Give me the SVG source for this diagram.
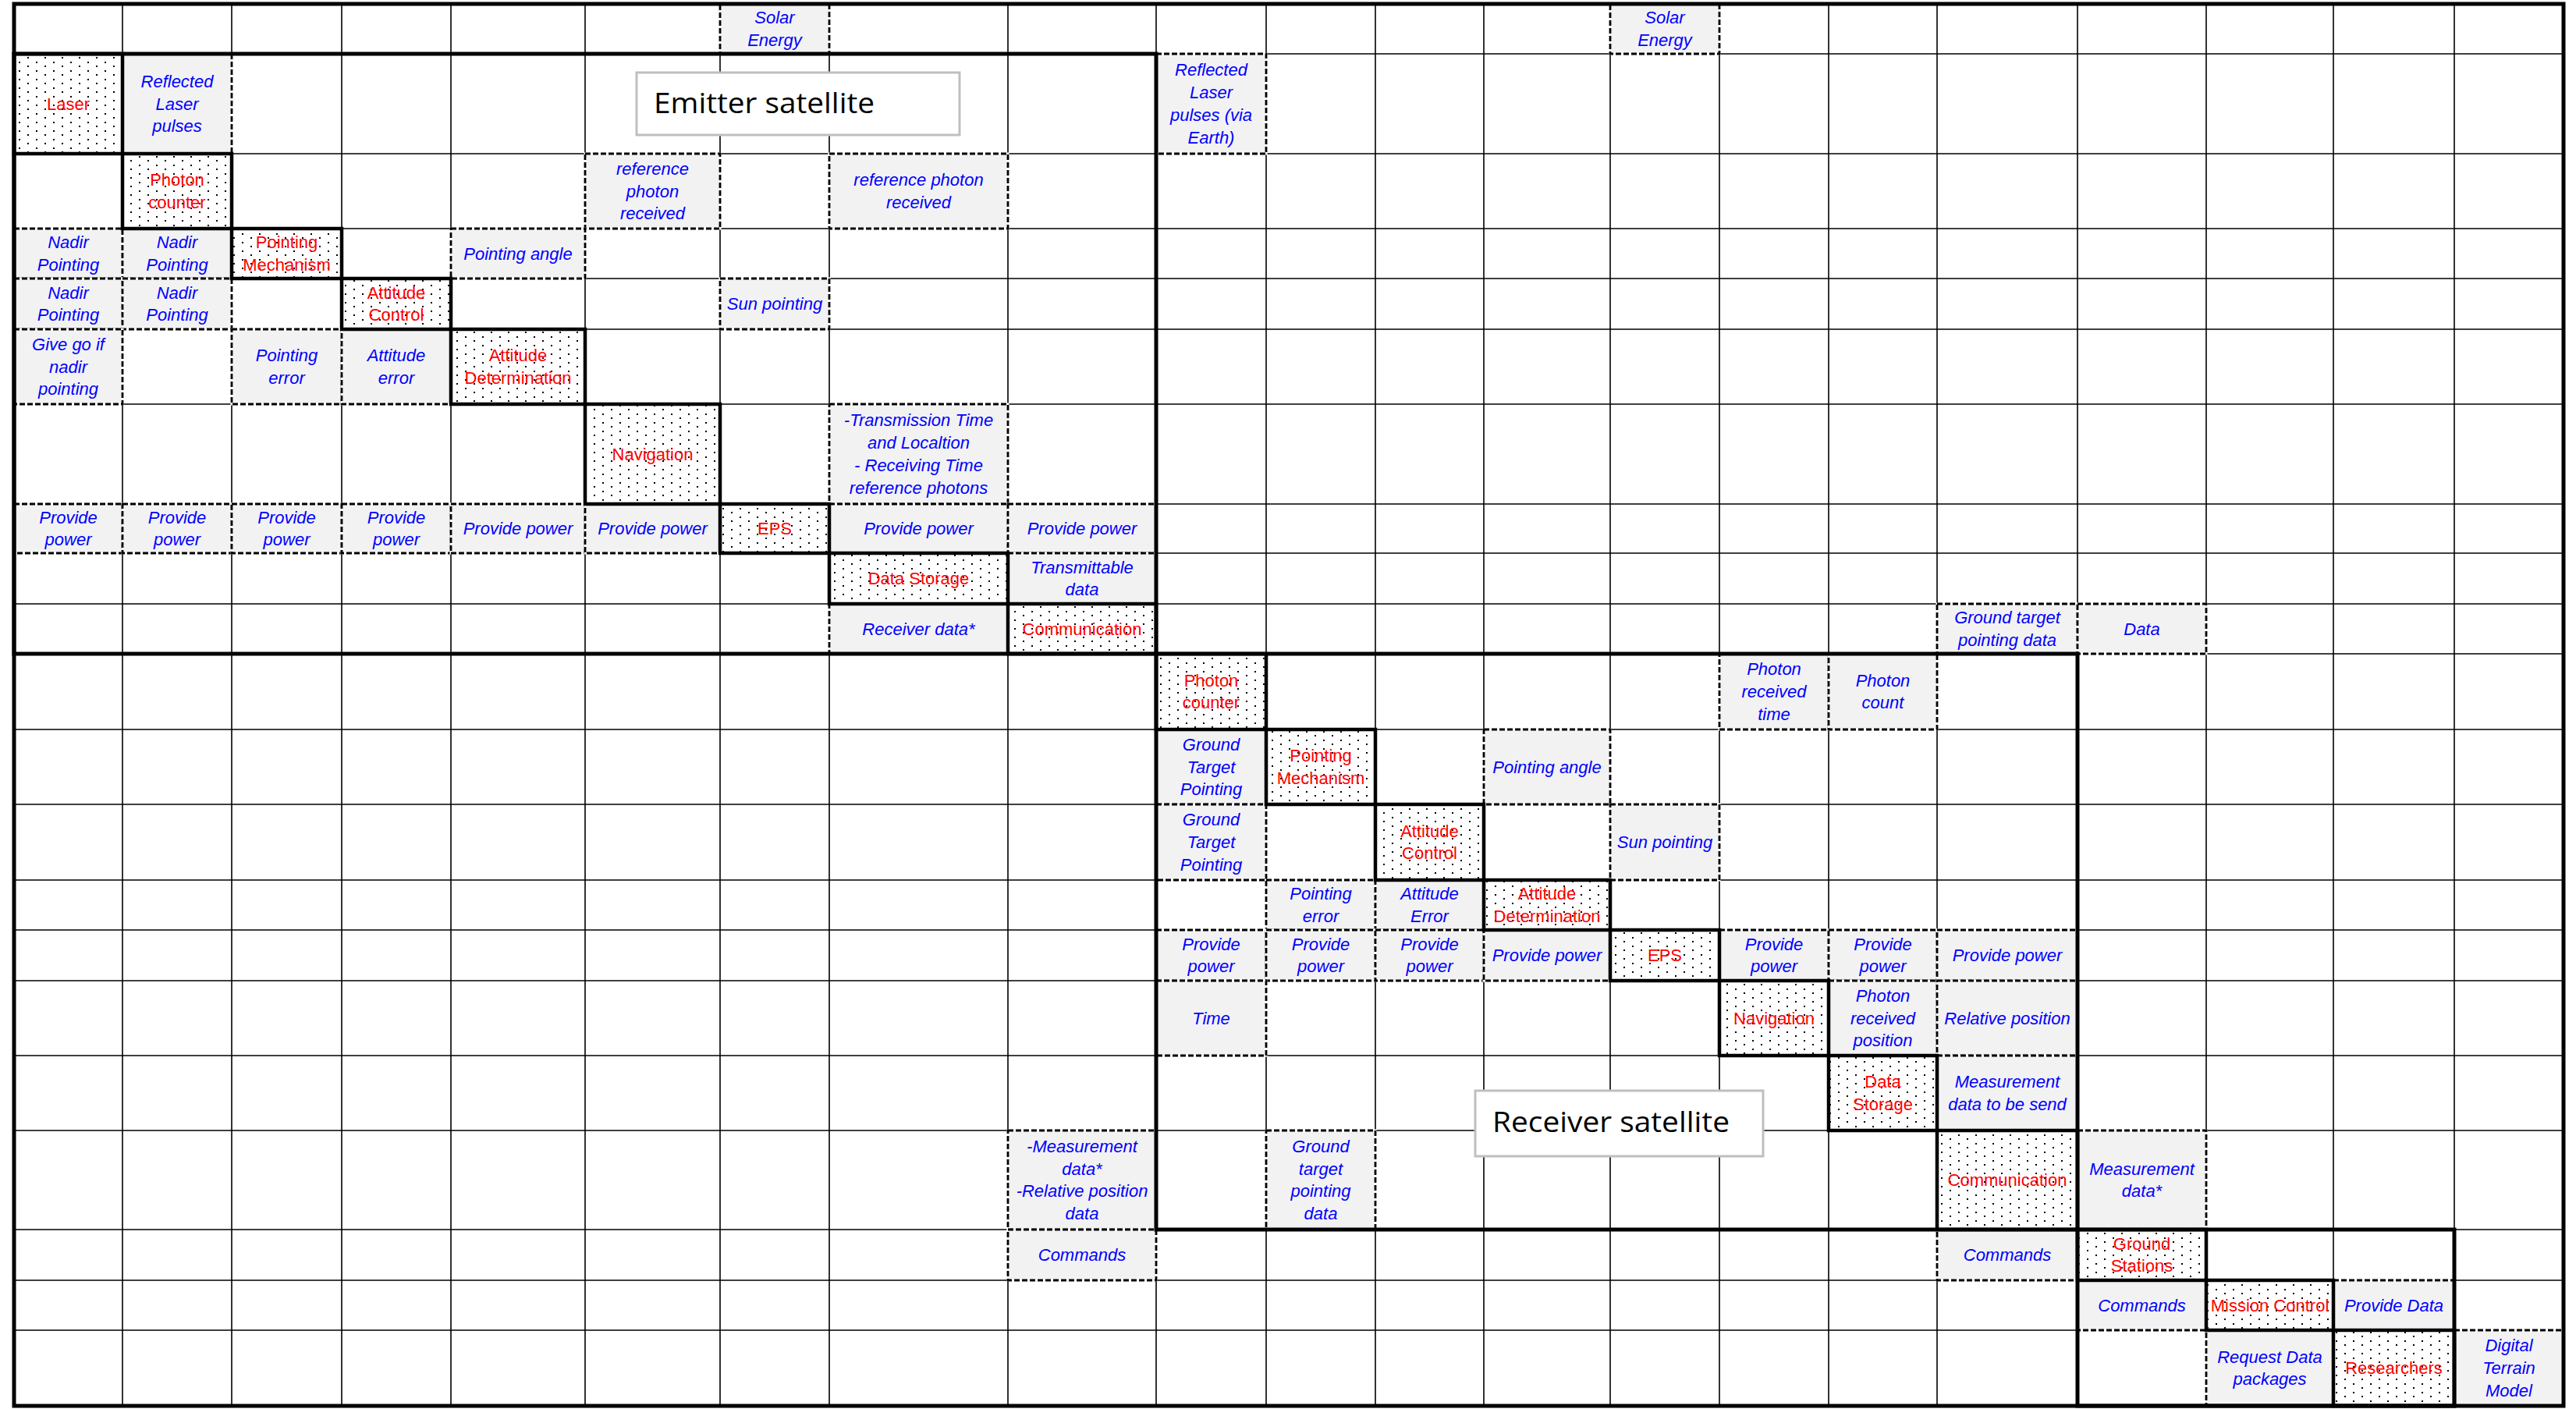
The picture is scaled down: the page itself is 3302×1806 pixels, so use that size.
<svg xmlns="http://www.w3.org/2000/svg" width="3302" height="1806" viewBox="0 0 3302 1806">
<style>
.g{fill:none;stroke:#000;stroke-width:1.6}
.cb{fill:#f2f2f2;stroke:#fff;stroke-width:3}
.cd{fill:none;stroke:#000;stroke-width:2.8;stroke-dasharray:7 3}
.dg{fill:url(#dots);stroke:#000;stroke-width:4.5}
.blk{fill:none;stroke:#000;stroke-width:5}
.t{font-family:"Liberation Sans",Arial,sans-serif;font-size:22px;font-style:italic;fill:#00f;text-anchor:middle}
.r{font-family:"Liberation Sans",Arial,sans-serif;font-size:22px;fill:#f00;text-anchor:middle}
.lb{fill:#fff;stroke:#bfbfbf;stroke-width:3}
.lt{font-family:"Open Sans","Noto Sans",sans-serif;font-size:37px;fill:#000}
</style>
<defs>
<pattern id="dots" width="22" height="11" patternUnits="userSpaceOnUse">
<rect width="22" height="11" fill="#fff"/>
<rect x="2" y="2" width="2" height="2" fill="#000"/>
<rect x="13" y="7" width="2" height="2" fill="#000"/>
</pattern>
</defs>
<rect width="3302" height="1806" fill="#fff"/>
<g id="grid">
<path class="g" d="M157 5V1802M297 5V1802M438 5V1802M578 5V1802M750 5V1802M923 5V1802M1063 5V1802M1292 5V1802M1482 5V1802M1623 5V1802M1763 5V1802M1902 5V1802M2064 5V1802M2204 5V1802M2344 5V1802M2483 5V1802M2663 5V1802M2828 5V1802M2991 5V1802M3146 5V1802"/>
<path class="g" d="M18 69H3286M18 197H3286M18 293H3286M18 357H3286M18 422H3286M18 518H3286M18 646H3286M18 709H3286M18 774H3286M18 838H3286M18 935H3286M18 1031H3286M18 1128H3286M18 1192H3286M18 1257H3286M18 1353H3286M18 1449H3286M18 1576H3286M18 1641H3286M18 1705H3286"/>
</g>
<g id="interfaces">
<g id="if-0-6"><rect class="cb" x="923" y="5" width="140" height="64"/><rect class="cd" x="923" y="5" width="140" height="64"/><text class="t" x="993" y="30.15">Solar<tspan x="993" dy="28.7">Energy</tspan></text></g>
<g id="if-0-13"><rect class="cb" x="2064" y="5" width="140" height="64"/><rect class="cd" x="2064" y="5" width="140" height="64"/><text class="t" x="2134" y="30.15">Solar<tspan x="2134" dy="28.7">Energy</tspan></text></g>
<g id="if-1-1"><rect class="cb" x="157" y="69" width="140" height="128"/><rect class="cd" x="157" y="69" width="140" height="128"/><text class="t" x="227" y="111.8">Reflected<tspan x="227" dy="28.7">Laser</tspan><tspan x="227" dy="28.7">pulses</tspan></text></g>
<g id="if-1-9"><rect class="cb" x="1482" y="69" width="141" height="128"/><rect class="cd" x="1482" y="69" width="141" height="128"/><text class="t" x="1552.5" y="97.45">Reflected<tspan x="1552.5" dy="28.7">Laser</tspan><tspan x="1552.5" dy="28.7">pulses (via</tspan><tspan x="1552.5" dy="28.7">Earth)</tspan></text></g>
<g id="if-2-5"><rect class="cb" x="750" y="197" width="173" height="96"/><rect class="cd" x="750" y="197" width="173" height="96"/><text class="t" x="836.5" y="223.8">reference<tspan x="836.5" dy="28.7">photon</tspan><tspan x="836.5" dy="28.7">received</tspan></text></g>
<g id="if-2-7"><rect class="cb" x="1063" y="197" width="229" height="96"/><rect class="cd" x="1063" y="197" width="229" height="96"/><text class="t" x="1177.5" y="238.15">reference photon<tspan x="1177.5" dy="28.7">received</tspan></text></g>
<g id="if-3-0"><rect class="cb" x="18" y="293" width="139" height="64"/><rect class="cd" x="18" y="293" width="139" height="64"/><text class="t" x="87.5" y="318.15">Nadir<tspan x="87.5" dy="28.7">Pointing</tspan></text></g>
<g id="if-3-1"><rect class="cb" x="157" y="293" width="140" height="64"/><rect class="cd" x="157" y="293" width="140" height="64"/><text class="t" x="227" y="318.15">Nadir<tspan x="227" dy="28.7">Pointing</tspan></text></g>
<g id="if-3-4"><rect class="cb" x="578" y="293" width="172" height="64"/><rect class="cd" x="578" y="293" width="172" height="64"/><text class="t" x="664" y="332.5">Pointing angle</text></g>
<g id="if-4-0"><rect class="cb" x="18" y="357" width="139" height="65"/><rect class="cd" x="18" y="357" width="139" height="65"/><text class="t" x="87.5" y="382.65">Nadir<tspan x="87.5" dy="28.7">Pointing</tspan></text></g>
<g id="if-4-1"><rect class="cb" x="157" y="357" width="140" height="65"/><rect class="cd" x="157" y="357" width="140" height="65"/><text class="t" x="227" y="382.65">Nadir<tspan x="227" dy="28.7">Pointing</tspan></text></g>
<g id="if-4-6"><rect class="cb" x="923" y="357" width="140" height="65"/><rect class="cd" x="923" y="357" width="140" height="65"/><text class="t" x="993" y="397">Sun pointing</text></g>
<g id="if-5-0"><rect class="cb" x="18" y="422" width="139" height="96"/><rect class="cd" x="18" y="422" width="139" height="96"/><text class="t" x="87.5" y="448.8">Give go if<tspan x="87.5" dy="28.7">nadir</tspan><tspan x="87.5" dy="28.7">pointing</tspan></text></g>
<g id="if-5-2"><rect class="cb" x="297" y="422" width="141" height="96"/><rect class="cd" x="297" y="422" width="141" height="96"/><text class="t" x="367.5" y="463.15">Pointing<tspan x="367.5" dy="28.7">error</tspan></text></g>
<g id="if-5-3"><rect class="cb" x="438" y="422" width="140" height="96"/><rect class="cd" x="438" y="422" width="140" height="96"/><text class="t" x="508" y="463.15">Attitude<tspan x="508" dy="28.7">error</tspan></text></g>
<g id="if-6-7"><rect class="cb" x="1063" y="518" width="229" height="128"/><rect class="cd" x="1063" y="518" width="229" height="128"/><text class="t" x="1177.5" y="546.45">-Transmission Time<tspan x="1177.5" dy="28.7">and Localtion</tspan><tspan x="1177.5" dy="28.7">- Receiving Time</tspan><tspan x="1177.5" dy="28.7">reference photons</tspan></text></g>
<g id="if-7-0"><rect class="cb" x="18" y="646" width="139" height="63"/><rect class="cd" x="18" y="646" width="139" height="63"/><text class="t" x="87.5" y="670.65">Provide<tspan x="87.5" dy="28.7">power</tspan></text></g>
<g id="if-7-1"><rect class="cb" x="157" y="646" width="140" height="63"/><rect class="cd" x="157" y="646" width="140" height="63"/><text class="t" x="227" y="670.65">Provide<tspan x="227" dy="28.7">power</tspan></text></g>
<g id="if-7-2"><rect class="cb" x="297" y="646" width="141" height="63"/><rect class="cd" x="297" y="646" width="141" height="63"/><text class="t" x="367.5" y="670.65">Provide<tspan x="367.5" dy="28.7">power</tspan></text></g>
<g id="if-7-3"><rect class="cb" x="438" y="646" width="140" height="63"/><rect class="cd" x="438" y="646" width="140" height="63"/><text class="t" x="508" y="670.65">Provide<tspan x="508" dy="28.7">power</tspan></text></g>
<g id="if-7-4"><rect class="cb" x="578" y="646" width="172" height="63"/><rect class="cd" x="578" y="646" width="172" height="63"/><text class="t" x="664" y="685">Provide power</text></g>
<g id="if-7-5"><rect class="cb" x="750" y="646" width="173" height="63"/><rect class="cd" x="750" y="646" width="173" height="63"/><text class="t" x="836.5" y="685">Provide power</text></g>
<g id="if-7-7"><rect class="cb" x="1063" y="646" width="229" height="63"/><rect class="cd" x="1063" y="646" width="229" height="63"/><text class="t" x="1177.5" y="685">Provide power</text></g>
<g id="if-7-8"><rect class="cb" x="1292" y="646" width="190" height="63"/><rect class="cd" x="1292" y="646" width="190" height="63"/><text class="t" x="1387" y="685">Provide power</text></g>
<g id="if-8-8"><rect class="cb" x="1292" y="709" width="190" height="65"/><rect class="cd" x="1292" y="709" width="190" height="65"/><text class="t" x="1387" y="734.65">Transmittable<tspan x="1387" dy="28.7">data</tspan></text></g>
<g id="if-9-7"><rect class="cb" x="1063" y="774" width="229" height="64"/><rect class="cd" x="1063" y="774" width="229" height="64"/><text class="t" x="1177.5" y="813.5">Receiver data*</text></g>
<g id="if-9-16"><rect class="cb" x="2483" y="774" width="180" height="64"/><rect class="cd" x="2483" y="774" width="180" height="64"/><text class="t" x="2573" y="799.15">Ground target<tspan x="2573" dy="28.7">pointing data</tspan></text></g>
<g id="if-9-17"><rect class="cb" x="2663" y="774" width="165" height="64"/><rect class="cd" x="2663" y="774" width="165" height="64"/><text class="t" x="2745.5" y="813.5">Data</text></g>
<g id="if-10-14"><rect class="cb" x="2204" y="838" width="140" height="97"/><rect class="cd" x="2204" y="838" width="140" height="97"/><text class="t" x="2274" y="865.3">Photon<tspan x="2274" dy="28.7">received</tspan><tspan x="2274" dy="28.7">time</tspan></text></g>
<g id="if-10-15"><rect class="cb" x="2344" y="838" width="139" height="97"/><rect class="cd" x="2344" y="838" width="139" height="97"/><text class="t" x="2413.5" y="879.65">Photon<tspan x="2413.5" dy="28.7">count</tspan></text></g>
<g id="if-11-9"><rect class="cb" x="1482" y="935" width="141" height="96"/><rect class="cd" x="1482" y="935" width="141" height="96"/><text class="t" x="1552.5" y="961.8">Ground<tspan x="1552.5" dy="28.7">Target</tspan><tspan x="1552.5" dy="28.7">Pointing</tspan></text></g>
<g id="if-11-12"><rect class="cb" x="1902" y="935" width="162" height="96"/><rect class="cd" x="1902" y="935" width="162" height="96"/><text class="t" x="1983" y="990.5">Pointing angle</text></g>
<g id="if-12-9"><rect class="cb" x="1482" y="1031" width="141" height="97"/><rect class="cd" x="1482" y="1031" width="141" height="97"/><text class="t" x="1552.5" y="1058.3">Ground<tspan x="1552.5" dy="28.7">Target</tspan><tspan x="1552.5" dy="28.7">Pointing</tspan></text></g>
<g id="if-12-13"><rect class="cb" x="2064" y="1031" width="140" height="97"/><rect class="cd" x="2064" y="1031" width="140" height="97"/><text class="t" x="2134" y="1087">Sun pointing</text></g>
<g id="if-13-10"><rect class="cb" x="1623" y="1128" width="140" height="64"/><rect class="cd" x="1623" y="1128" width="140" height="64"/><text class="t" x="1693" y="1153.15">Pointing<tspan x="1693" dy="28.7">error</tspan></text></g>
<g id="if-13-11"><rect class="cb" x="1763" y="1128" width="139" height="64"/><rect class="cd" x="1763" y="1128" width="139" height="64"/><text class="t" x="1832.5" y="1153.15">Attitude<tspan x="1832.5" dy="28.7">Error</tspan></text></g>
<g id="if-14-9"><rect class="cb" x="1482" y="1192" width="141" height="65"/><rect class="cd" x="1482" y="1192" width="141" height="65"/><text class="t" x="1552.5" y="1217.65">Provide<tspan x="1552.5" dy="28.7">power</tspan></text></g>
<g id="if-14-10"><rect class="cb" x="1623" y="1192" width="140" height="65"/><rect class="cd" x="1623" y="1192" width="140" height="65"/><text class="t" x="1693" y="1217.65">Provide<tspan x="1693" dy="28.7">power</tspan></text></g>
<g id="if-14-11"><rect class="cb" x="1763" y="1192" width="139" height="65"/><rect class="cd" x="1763" y="1192" width="139" height="65"/><text class="t" x="1832.5" y="1217.65">Provide<tspan x="1832.5" dy="28.7">power</tspan></text></g>
<g id="if-14-12"><rect class="cb" x="1902" y="1192" width="162" height="65"/><rect class="cd" x="1902" y="1192" width="162" height="65"/><text class="t" x="1983" y="1232">Provide power</text></g>
<g id="if-14-14"><rect class="cb" x="2204" y="1192" width="140" height="65"/><rect class="cd" x="2204" y="1192" width="140" height="65"/><text class="t" x="2274" y="1217.65">Provide<tspan x="2274" dy="28.7">power</tspan></text></g>
<g id="if-14-15"><rect class="cb" x="2344" y="1192" width="139" height="65"/><rect class="cd" x="2344" y="1192" width="139" height="65"/><text class="t" x="2413.5" y="1217.65">Provide<tspan x="2413.5" dy="28.7">power</tspan></text></g>
<g id="if-14-16"><rect class="cb" x="2483" y="1192" width="180" height="65"/><rect class="cd" x="2483" y="1192" width="180" height="65"/><text class="t" x="2573" y="1232">Provide power</text></g>
<g id="if-15-9"><rect class="cb" x="1482" y="1257" width="141" height="96"/><rect class="cd" x="1482" y="1257" width="141" height="96"/><text class="t" x="1552.5" y="1312.5">Time</text></g>
<g id="if-15-15"><rect class="cb" x="2344" y="1257" width="139" height="96"/><rect class="cd" x="2344" y="1257" width="139" height="96"/><text class="t" x="2413.5" y="1283.8">Photon<tspan x="2413.5" dy="28.7">received</tspan><tspan x="2413.5" dy="28.7">position</tspan></text></g>
<g id="if-15-16"><rect class="cb" x="2483" y="1257" width="180" height="96"/><rect class="cd" x="2483" y="1257" width="180" height="96"/><text class="t" x="2573" y="1312.5">Relative position</text></g>
<g id="if-16-16"><rect class="cb" x="2483" y="1353" width="180" height="96"/><rect class="cd" x="2483" y="1353" width="180" height="96"/><text class="t" x="2573" y="1394.15">Measurement<tspan x="2573" dy="28.7">data to be send</tspan></text></g>
<g id="if-17-8"><rect class="cb" x="1292" y="1449" width="190" height="127"/><rect class="cd" x="1292" y="1449" width="190" height="127"/><text class="t" x="1387" y="1476.95">-Measurement<tspan x="1387" dy="28.7">data*</tspan><tspan x="1387" dy="28.7">-Relative position</tspan><tspan x="1387" dy="28.7">data</tspan></text></g>
<g id="if-17-10"><rect class="cb" x="1623" y="1449" width="140" height="127"/><rect class="cd" x="1623" y="1449" width="140" height="127"/><text class="t" x="1693" y="1476.95">Ground<tspan x="1693" dy="28.7">target</tspan><tspan x="1693" dy="28.7">pointing</tspan><tspan x="1693" dy="28.7">data</tspan></text></g>
<g id="if-17-17"><rect class="cb" x="2663" y="1449" width="165" height="127"/><rect class="cd" x="2663" y="1449" width="165" height="127"/><text class="t" x="2745.5" y="1505.65">Measurement<tspan x="2745.5" dy="28.7">data*</tspan></text></g>
<g id="if-18-8"><rect class="cb" x="1292" y="1576" width="190" height="65"/><rect class="cd" x="1292" y="1576" width="190" height="65"/><text class="t" x="1387" y="1616">Commands</text></g>
<g id="if-18-16"><rect class="cb" x="2483" y="1576" width="180" height="65"/><rect class="cd" x="2483" y="1576" width="180" height="65"/><text class="t" x="2573" y="1616">Commands</text></g>
<g id="if-19-17"><rect class="cb" x="2663" y="1641" width="165" height="64"/><rect class="cd" x="2663" y="1641" width="165" height="64"/><text class="t" x="2745.5" y="1680.5">Commands</text></g>
<g id="if-19-19"><rect class="cb" x="2991" y="1641" width="155" height="64"/><rect class="cd" x="2991" y="1641" width="155" height="64"/><text class="t" x="3068.5" y="1680.5">Provide Data</text></g>
<g id="if-20-18"><rect class="cb" x="2828" y="1705" width="163" height="97"/><rect class="cd" x="2828" y="1705" width="163" height="97"/><text class="t" x="2909.5" y="1746.65">Request Data<tspan x="2909.5" dy="28.7">packages</tspan></text></g>
<g id="if-20-20"><rect class="cb" x="3146" y="1705" width="140" height="97"/><rect class="cd" x="3146" y="1705" width="140" height="97"/><text class="t" x="3216" y="1732.3">Digital<tspan x="3216" dy="28.7">Terrain</tspan><tspan x="3216" dy="28.7">Model</tspan></text></g>
</g>
<g id="nodes">
<g id="n-laser"><rect class="dg" x="18" y="69" width="139" height="128"/><text class="r" x="87.5" y="140.5">Laser</text></g>
<g id="n-photon-counter-e"><rect class="dg" x="157" y="197" width="140" height="96"/><text class="r" x="227" y="238.15">Photon<tspan x="227" dy="28.7">counter</tspan></text></g>
<g id="n-pointing-mechanism-e"><rect class="dg" x="297" y="293" width="141" height="64"/><text class="r" x="367.5" y="318.15">Pointing<tspan x="367.5" dy="28.7">Mechanism</tspan></text></g>
<g id="n-attitude-control-e"><rect class="dg" x="438" y="357" width="140" height="65"/><text class="r" x="508" y="382.65">Attitude<tspan x="508" dy="28.7">Control</tspan></text></g>
<g id="n-attitude-determination-e"><rect class="dg" x="578" y="422" width="172" height="96"/><text class="r" x="664" y="463.15">Attitude<tspan x="664" dy="28.7">Determination</tspan></text></g>
<g id="n-navigation-e"><rect class="dg" x="750" y="518" width="173" height="128"/><text class="r" x="836.5" y="589.5">Navigation</text></g>
<g id="n-eps-e"><rect class="dg" x="923" y="646" width="140" height="63"/><text class="r" x="993" y="685">EPS</text></g>
<g id="n-data-storage-e"><rect class="dg" x="1063" y="709" width="229" height="65"/><text class="r" x="1177.5" y="749">Data Storage</text></g>
<g id="n-communication-e"><rect class="dg" x="1292" y="774" width="190" height="64"/><text class="r" x="1387" y="813.5">Communication</text></g>
<g id="n-photon-counter-r"><rect class="dg" x="1482" y="838" width="141" height="97"/><text class="r" x="1552.5" y="879.65">Photon<tspan x="1552.5" dy="28.7">counter</tspan></text></g>
<g id="n-pointing-mechanism-r"><rect class="dg" x="1623" y="935" width="140" height="96"/><text class="r" x="1693" y="976.15">Pointing<tspan x="1693" dy="28.7">Mechanism</tspan></text></g>
<g id="n-attitude-control-r"><rect class="dg" x="1763" y="1031" width="139" height="97"/><text class="r" x="1832.5" y="1072.65">Attitude<tspan x="1832.5" dy="28.7">Control</tspan></text></g>
<g id="n-attitude-determination-r"><rect class="dg" x="1902" y="1128" width="162" height="64"/><text class="r" x="1983" y="1153.15">Attitude<tspan x="1983" dy="28.7">Determination</tspan></text></g>
<g id="n-eps-r"><rect class="dg" x="2064" y="1192" width="140" height="65"/><text class="r" x="2134" y="1232">EPS</text></g>
<g id="n-navigation-r"><rect class="dg" x="2204" y="1257" width="140" height="96"/><text class="r" x="2274" y="1312.5">Navigation</text></g>
<g id="n-data-storage-r"><rect class="dg" x="2344" y="1353" width="139" height="96"/><text class="r" x="2413.5" y="1394.15">Data<tspan x="2413.5" dy="28.7">Storage</tspan></text></g>
<g id="n-communication-r"><rect class="dg" x="2483" y="1449" width="180" height="127"/><text class="r" x="2573" y="1520">Communication</text></g>
<g id="n-ground-stations"><rect class="dg" x="2663" y="1576" width="165" height="65"/><text class="r" x="2745.5" y="1601.65">Ground<tspan x="2745.5" dy="28.7">Stations</tspan></text></g>
<g id="n-mission-control"><rect class="dg" x="2828" y="1641" width="163" height="64"/><text class="r" x="2909.5" y="1680.5">Mission Control</text></g>
<g id="n-researchers"><rect class="dg" x="2991" y="1705" width="155" height="97"/><text class="r" x="3068.5" y="1761">Researchers</text></g>
</g>
<g id="blocks">
<rect class="blk" x="18" y="5" width="3268" height="1797"/>
<rect class="blk" x="18" y="69" width="1464" height="769"/>
<rect class="blk" x="1482" y="838" width="1181" height="738"/>
<rect class="blk" x="2663" y="1576" width="483" height="226"/>
</g>
<g id="labels">
<g id="label-emitter"><rect class="lb" x="816" y="93" width="414" height="80"/><text class="lt" x="838" y="145" textLength="283" lengthAdjust="spacingAndGlyphs">Emitter satellite</text></g>
<g id="label-receiver"><rect class="lb" x="1891" y="1398" width="369" height="84"/><text class="lt" x="1913" y="1451" textLength="304" lengthAdjust="spacingAndGlyphs">Receiver satellite</text></g>
</g>
</svg>
